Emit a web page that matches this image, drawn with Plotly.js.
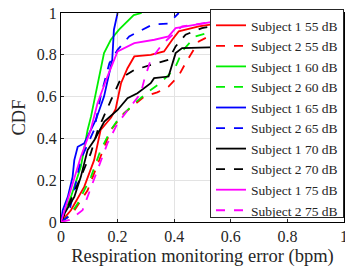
<!DOCTYPE html>
<html>
<head>
<meta charset="utf-8">
<script src="https://cdn.plot.ly/plotly-3.0.1.min.js"></script>
<style>html,body{margin:0;padding:0;background:#fff;}#chart{width:345px;height:270px;}</style>
</head>
<body>
<div id="chart"></div>
<script>
// Series names
const seriesNames = ["Subject 1 55 dB","Subject 2 55 dB","Subject 1 60 dB","Subject 2 60 dB","Subject 1 65 dB","Subject 2 65 dB","Subject 1 70 dB","Subject 2 70 dB","Subject 1 75 dB","Subject 2 75 dB"];

// Error values (bpm) and CDF values
const s1_55_x = [0, 0.035, 0.082, 0.117, 0.14, 0.177, 0.193, 0.212, 0.235, 0.259, 0.317, 0.364, 0.393, 0.416, 0.487, 0.603, 0.686, 0.80];
const s1_55_y = [0, 0.056, 0.168, 0.296, 0.44, 0.50, 0.54, 0.664, 0.736, 0.792, 0.80, 0.816, 0.872, 0.912, 0.936, 0.96, 0.984, 1];

const s2_55_x = [0, 0.04, 0.094, 0.14, 0.176, 0.222, 0.294, 0.34, 0.38, 0.416, 0.44, 0.487, 0.545, 0.65];
const s2_55_y = [0, 0.04, 0.152, 0.312, 0.44, 0.52, 0.60, 0.62, 0.648, 0.70, 0.76, 0.864, 0.904, 1];

const s1_60_x = [0, 0.035, 0.07, 0.094, 0.106, 0.129, 0.152, 0.176, 0.205, 0.257, 0.285];
const s1_60_y = [0, 0.12, 0.264, 0.44, 0.504, 0.648, 0.808, 0.872, 0.92, 0.99, 1];

const s2_60_x = [0, 0.03, 0.059, 0.106, 0.14, 0.176, 0.2, 0.259, 0.317, 0.346, 0.387, 0.405, 0.43, 0.475, 0.58, 0.67, 0.885];
const s2_60_y = [0, 0.03, 0.088, 0.216, 0.344, 0.44, 0.488, 0.568, 0.632, 0.66, 0.712, 0.744, 0.82, 0.888, 0.928, 0.968, 1];

const s1_65_x = [0, 0.006, 0.024, 0.041, 0.047, 0.059, 0.082, 0.106, 0.123, 0.152, 0.171, 0.181, 0.187, 0.2];
const s1_65_y = [0, 0.056, 0.12, 0.216, 0.296, 0.36, 0.376, 0.44, 0.488, 0.60, 0.72, 0.776, 0.92, 1];

const s2_65_x = [0, 0.024, 0.047, 0.07, 0.117, 0.14, 0.171, 0.2, 0.241, 0.288, 0.322, 0.38, 0.416];
const s2_65_y = [0, 0.024, 0.152, 0.30, 0.44, 0.60, 0.76, 0.824, 0.888, 0.92, 0.944, 0.95, 1];

const s1_70_x = [0, 0.012, 0.047, 0.07, 0.094, 0.118, 0.153, 0.2, 0.235, 0.27, 0.317, 0.329, 0.38, 0.393, 0.405, 0.428, 0.65, 0.662, 0.668, 0.686, 0.73, 0.826, 0.84];
const s1_70_y = [0, 0.04, 0.12, 0.216, 0.344, 0.392, 0.48, 0.536, 0.592, 0.616, 0.664, 0.688, 0.696, 0.752, 0.808, 0.832, 0.84, 0.864, 0.92, 0.96, 0.97, 0.99, 1];

const s2_70_x = [0, 0.035, 0.07, 0.105, 0.13, 0.177, 0.212, 0.259, 0.317, 0.38, 0.405, 0.44, 0.498, 0.662, 0.78];
const s2_70_y = [0, 0.104, 0.216, 0.328, 0.44, 0.584, 0.688, 0.728, 0.75, 0.776, 0.84, 0.896, 0.928, 0.968, 1];

const s1_75_x = [0, 0.035, 0.07, 0.105, 0.129, 0.164, 0.2, 0.259, 0.33, 0.38, 0.405, 0.545, 0.66, 0.80];
const s1_75_y = [0, 0.152, 0.312, 0.44, 0.568, 0.696, 0.816, 0.856, 0.872, 0.888, 0.928, 0.96, 0.99, 1];

const s2_75_x = [0, 0.03, 0.076, 0.129, 0.164, 0.2, 0.282, 0.294, 0.317, 0.352, 0.375, 0.428, 0.60, 0.75];
const s2_75_y = [0, 0.01, 0.056, 0.248, 0.376, 0.472, 0.616, 0.68, 0.776, 0.84, 0.872, 0.936, 0.97, 1];

const xTicks = [0, 0.2, 0.4, 0.6, 0.8, 1];
const yTicks = [0, 0.2, 0.4, 0.6, 0.8, 1];

const xs = [s1_55_x, s2_55_x, s1_60_x, s2_60_x, s1_65_x, s2_65_x, s1_70_x, s2_70_x, s1_75_x, s2_75_x];
const ys = [s1_55_y, s2_55_y, s1_60_y, s2_60_y, s1_65_y, s2_65_y, s1_70_y, s2_70_y, s1_75_y, s2_75_y];
const colors = ["#ff0000","#ff0000","#00ee00","#00ee00","#0000ff","#0000ff","#000000","#000000","#ff00ff","#ff00ff"];
const dashes = ["solid","dash","solid","dash","solid","dash","solid","dash","solid","dash"];

const traces = seriesNames.map((n, i) => ({
  x: xs[i], y: ys[i], name: n, type: 'scatter', mode: 'lines',
  line: {color: colors[i], width: 1.8, dash: dashes[i]}
}));

const font = {family: '"Liberation Serif", "Times New Roman", serif', color: '#262626'};

const axisCommon = {
  showline: true, linecolor: '#000', linewidth: 1, mirror: 'ticks',
  ticks: 'inside', ticklen: 3, tickcolor: '#262626',
  showgrid: true, gridcolor: '#e3e3e3', gridwidth: 1, zeroline: false,
  tickfont: Object.assign({size: 16}, font), ticklabeloverflow: 'allow'
};

const layout = {
  width: 345, height: 270,
  margin: {l: 61, r: 1, t: 13, b: 48},
  paper_bgcolor: '#fff', plot_bgcolor: '#fff',
  font: Object.assign({size: 14}, font),
  showlegend: true,
  xaxis: Object.assign({}, axisCommon, {
    range: [0, 1], tickvals: xTicks, ticktext: xTicks.map(String),
    title: {text: 'Respiration monitoring error (bpm)', font: Object.assign({size: 18.5}, font), standoff: 4}
  }),
  yaxis: Object.assign({}, axisCommon, {
    range: [0, 1], tickvals: yTicks, ticktext: yTicks.map(String),
    title: {text: 'CDF', font: Object.assign({size: 18.5}, font), standoff: 6}
  }),
  legend: {
    x: 1, xanchor: 'right', y: 0.019, yanchor: 'bottom',
    bgcolor: '#fff', bordercolor: '#262626', borderwidth: 1,
    font: Object.assign({size: 13.5}, font), tracegroupgap: 0,
    itemwidth: 30
  }
};

Plotly.newPlot('chart', traces, layout, {displayModeBar: false, staticPlot: true});
</script>
</body>
</html>
